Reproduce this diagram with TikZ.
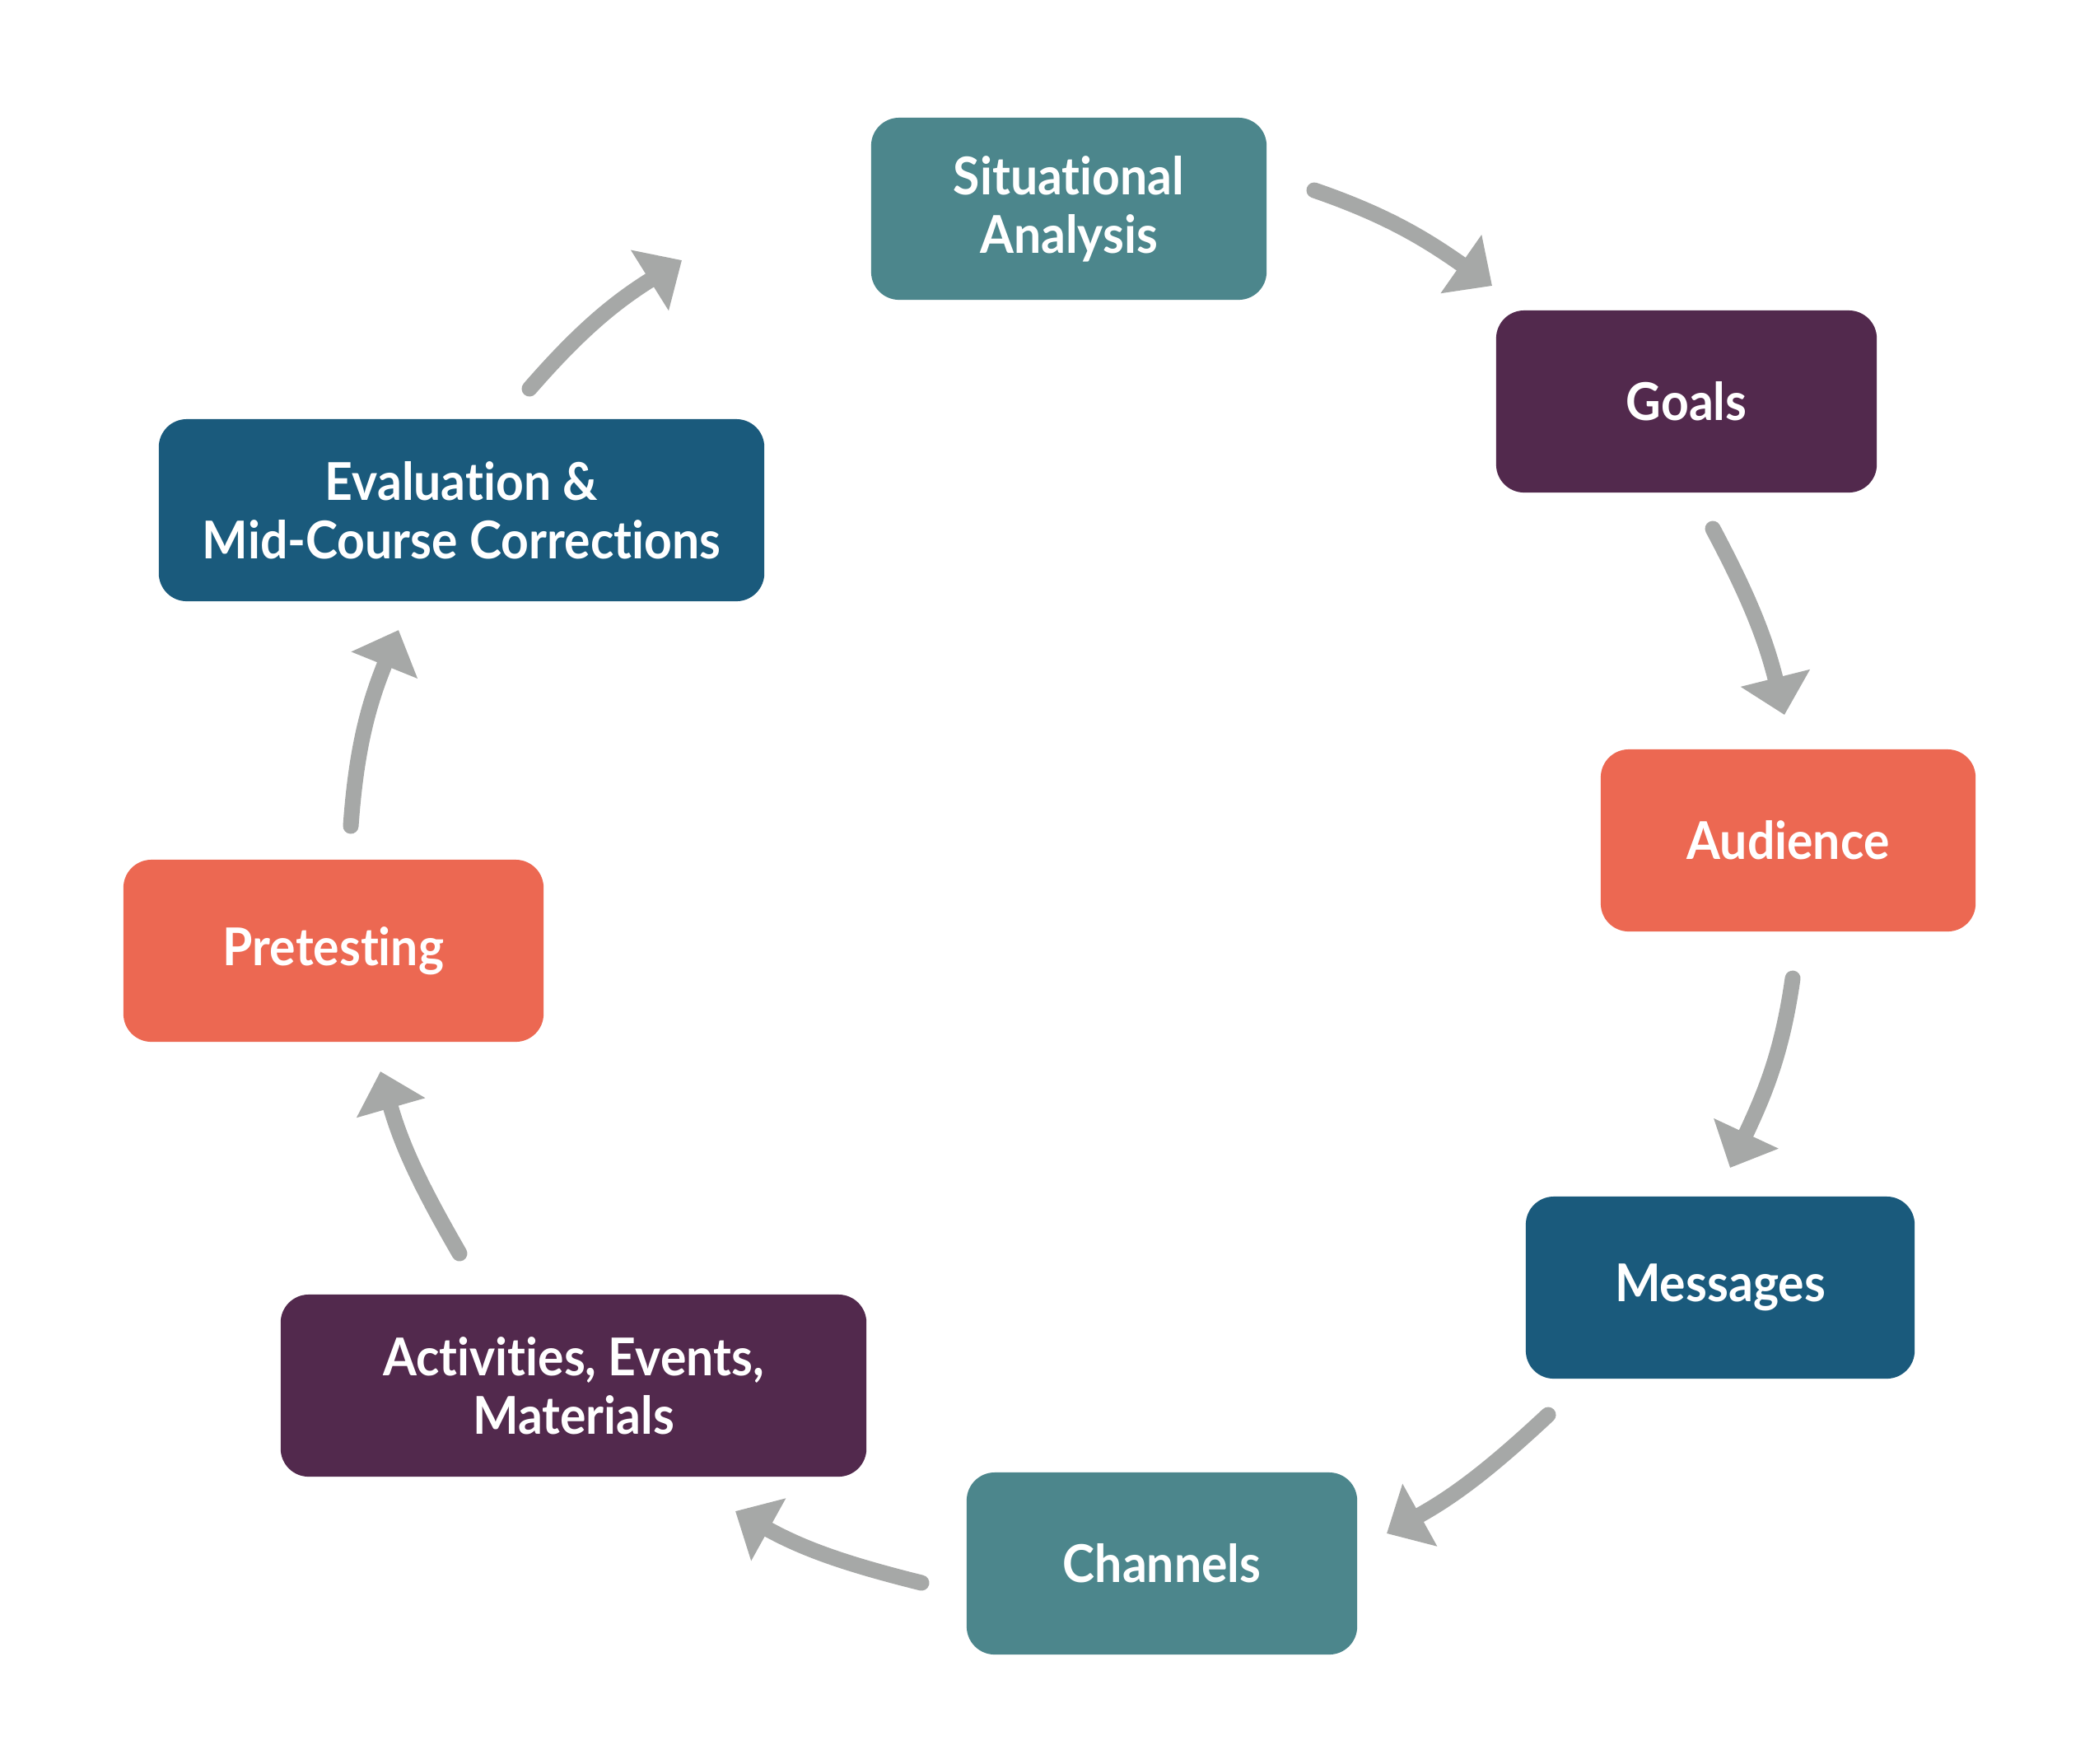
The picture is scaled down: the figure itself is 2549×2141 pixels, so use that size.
\documentclass[tikz,border=0pt]{standalone}
\usepackage{fontspec}
\newfontfamily\boxfont{Lato}[FakeStretch=0.93, Ligatures=NoCommon]
\usetikzlibrary{arrows.meta}
\definecolor{cteal}{HTML}{4C868C}
\definecolor{cpurple}{HTML}{52294D}
\definecolor{ccoral}{HTML}{EC6852}
\definecolor{cblue}{HTML}{1A5A7C}
\definecolor{cgray}{HTML}{A6A8A7}
\begin{document}
\begin{tikzpicture}[x=0.01cm,y=0.01cm,
  box/.style={rounded corners=3.4mm, minimum height=22.1mm, inner sep=0pt,
    align=center, text=white, font=\boxfont\bfseries\fontsize{18}{20.2}\selectfont},
  flow/.style={draw=cgray, line width=1.9mm, line cap=round,
    -{Triangle[length=4.6mm,width=8.4mm]}}]
\useasboundingbox (0,0) rectangle (2549,-2141);
\fill[white] (0,0) rectangle (2549,-2141);
% boxes
\node[box, fill=cteal, minimum width=4.8cm] (sa) at (1298,-253.5) {Situational\\Analysis};
\node[box, fill=cpurple, minimum width=4.62cm] (goals) at (2048,-487.5) {Goals};
\node[box, fill=ccoral, minimum width=4.55cm] (aud) at (2171.5,-1020.5) {Audience};
\node[box, fill=cblue, minimum width=4.72cm] (msg) at (2089,-1563.5) {Messages};
\node[box, fill=cteal, minimum width=4.74cm] (chan) at (1411,-1898.5) {Channels};
\node[box, fill=cpurple, minimum width=7.11cm] (act) at (696.5,-1682.5) {Activities, Events,\\Materials};
\node[box, fill=ccoral, minimum width=5.1cm] (pre) at (405,-1154.5) {Pretesting};
\node[box, fill=cblue, minimum width=7.35cm] (eval) at (560.5,-619.5) {Evaluation \&\\Mid-Course Corrections};
% arrow end points
\coordinate (a1s) at (1596,-231);  \coordinate (a1e) at (1812,-347);
\coordinate (a2s) at (2080,-642);  \coordinate (a2e) at (2167,-868);
\coordinate (a3s) at (2177,-1188); \coordinate (a3e) at (2101,-1418);
\coordinate (a4s) at (1880,-1718); \coordinate (a4e) at (1684,-1862);
\coordinate (a5s) at (1119,-1922); \coordinate (a5e) at (893,-1835);
\coordinate (a6s) at (558,-1522);  \coordinate (a6e) at (462,-1301);
\coordinate (a7s) at (426,-1003);  \coordinate (a7e) at (484,-765);
\coordinate (a8s) at (643,-472);   \coordinate (a8e) at (828,-316);
% arrows
\draw[flow] (a1s) to[out=-19,in=145] (a1e);
\draw[flow] (a2s) to[out=-62,in=104] (a2e);
\draw[flow] (a3s) to[out=-98,in=65] (a3e);
\draw[flow] (a4s) to[out=-137,in=29] (a4e);
\draw[flow] (a5s) to[out=166,in=-29] (a5e);
\draw[flow] (a6s) to[out=120,in=-74] (a6e);
\draw[flow] (a7s) to[out=86,in=-112] (a7e);
\draw[flow] (a8s) to[out=49,in=-148] (a8e);
\end{tikzpicture}
\end{document}
